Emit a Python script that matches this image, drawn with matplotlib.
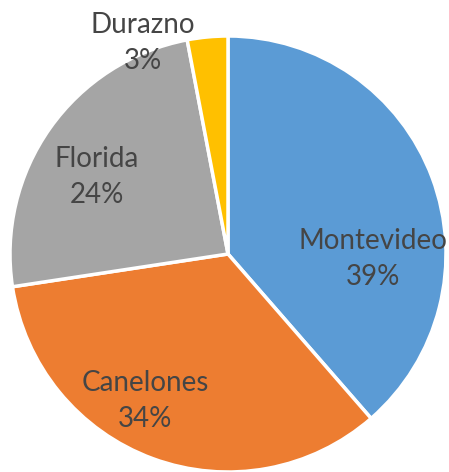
import matplotlib.pyplot as plt

# share of each department, clockwise from the top
departments = ['Montevideo', 'Canelones', 'Florida', 'Durazno']
shares = [38.6, 34.0, 24.4, 3.0]
pct_labels = ['39%', '34%', '24%', '3%']
colors = ['#5B9BD5', '#ED7D31', '#A5A5A5', '#FFC000']

# label anchor points in pixels (from top-left)
label_pos = [(373, 259), (145, 401), (97, 177), (143, 43)]

W, H = 449, 472
fig = plt.figure(figsize=(W / 100, H / 100), dpi=100)
ax = fig.add_axes([0, 0, 1, 1])
ax.set_xlim(0, W)
ax.set_ylim(0, H)
ax.set_aspect('equal')
ax.axis('off')

ax.pie(shares, colors=colors, startangle=90, counterclock=False,
       center=(228, H - 254), radius=218,
       wedgeprops=dict(edgecolor='white', linewidth=2.5))
ax.set_xlim(0, W)
ax.set_ylim(0, H)

for name, pct, (x, y) in zip(departments, pct_labels, label_pos):
    ax.text(x, H - y, name + '\n' + pct, ha='center', va='center',
            fontsize=20, family='Lato', color='#454545', linespacing=1.45)

fig.savefig('out.png', dpi=100)
